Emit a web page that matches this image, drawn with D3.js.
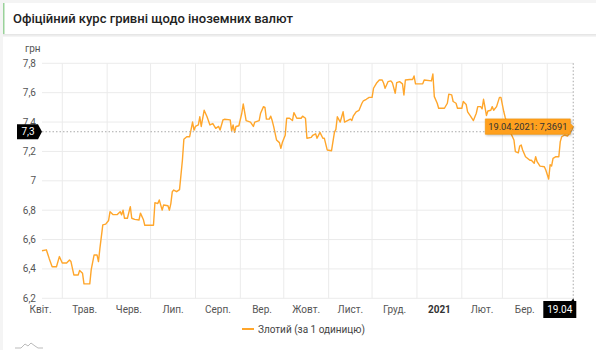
<!DOCTYPE html>
<html><head><meta charset="utf-8">
<script src="https://cdn.jsdelivr.net/npm/d3@7"></script>
<style>
html,body{margin:0;padding:0;background:#f4f4f4;}
svg{display:block;font-family:Roboto,"Noto Sans",sans-serif;}
</style></head>
<body>
<svg id="c" width="596" height="350"></svg>
<script>
const title = "Офіційний курс гривні щодо іноземних валют";
const unitLabel = "грн";
const seriesName = "Злотий (за 1 одиницю)";
const monthLabels = ["Квіт.","Трав.","Черв.","Лип.","Серп.","Вер.","Жовт.","Лист.","Груд.","2021","Лют.","Бер."];
const yTicks = [6.2,6.4,6.6,6.8,7,7.2,7.4,7.6,7.8];
const dates = ["2020-04-17","2020-04-20","2020-04-22","2020-04-24","2020-04-27","2020-04-29","2020-05-01","2020-05-04","2020-05-06","2020-05-07",
"2020-05-09","2020-05-12","2020-05-13","2020-05-15","2020-05-16","2020-05-20","2020-05-21","2020-05-23","2020-05-25","2020-05-26",
"2020-05-27","2020-05-29","2020-05-31","2020-06-02","2020-06-03","2020-06-05","2020-06-08","2020-06-10","2020-06-11","2020-06-12",
"2020-06-13","2020-06-15","2020-06-17","2020-06-18","2020-06-20","2020-06-23","2020-06-24","2020-06-26","2020-06-27","2020-07-03",
"2020-07-04","2020-07-06","2020-07-07","2020-07-09","2020-07-10","2020-07-13","2020-07-14","2020-07-15","2020-07-16","2020-07-17",
"2020-07-19","2020-07-21","2020-07-23","2020-07-24","2020-07-26","2020-07-28","2020-07-30","2020-07-31","2020-08-01","2020-08-03",
"2020-08-04","2020-08-05","2020-08-07","2020-08-09","2020-08-11","2020-08-13","2020-08-15","2020-08-17","2020-08-18","2020-08-20",
"2020-08-21","2020-08-25","2020-08-26","2020-08-27","2020-08-28","2020-08-29","2020-08-31","2020-09-02","2020-09-03","2020-09-05",
"2020-09-08","2020-09-10","2020-09-11","2020-09-14","2020-09-15","2020-09-17","2020-09-18","2020-09-19","2020-09-21","2020-09-22",
"2020-09-23","2020-09-24","2020-09-26","2020-09-28","2020-09-29","2020-09-30","2020-10-02","2020-10-03","2020-10-05","2020-10-07",
"2020-10-08","2020-10-10","2020-10-13","2020-10-14","2020-10-16","2020-10-17","2020-10-20","2020-10-21","2020-10-23","2020-10-24",
"2020-10-26","2020-10-28","2020-10-29","2020-10-31","2020-11-03","2020-11-05","2020-11-06","2020-11-07","2020-11-09","2020-11-11",
"2020-11-12","2020-11-14","2020-11-16","2020-11-17","2020-11-18","2020-11-20","2020-11-22","2020-11-24","2020-11-25","2020-11-27",
"2020-11-29","2020-12-01","2020-12-02","2020-12-04","2020-12-06","2020-12-08","2020-12-09","2020-12-10","2020-12-12","2020-12-14",
"2020-12-15","2020-12-17","2020-12-18","2020-12-20","2020-12-22","2020-12-23","2020-12-24","2020-12-27","2020-12-29","2020-12-30",
"2020-12-31","2021-01-05","2021-01-06","2021-01-11","2021-01-12","2021-01-13","2021-01-15","2021-01-16","2021-01-20","2021-01-22",
"2021-01-23","2021-01-25","2021-01-26","2021-01-28","2021-01-29","2021-02-01","2021-02-02","2021-02-04","2021-02-05","2021-02-07",
"2021-02-09","2021-02-11","2021-02-12","2021-02-14","2021-02-15","2021-02-16","2021-02-18","2021-02-19","2021-02-21","2021-02-22",
"2021-02-23","2021-02-25","2021-02-27","2021-02-28","2021-03-02","2021-03-03","2021-03-06","2021-03-07","2021-03-09","2021-03-10",
"2021-03-12","2021-03-13","2021-03-14","2021-03-15","2021-03-17","2021-03-20","2021-03-21","2021-03-23","2021-03-24","2021-03-25",
"2021-03-27","2021-03-30","2021-03-31","2021-04-02","2021-04-03","2021-04-04","2021-04-05","2021-04-07","2021-04-09","2021-04-10",
"2021-04-11","2021-04-13","2021-04-15","2021-04-16","2021-04-18","2021-04-19"];
const values = [6.524,6.53,6.47,6.415,6.415,6.484,6.44,6.44,6.46,6.45,
6.359,6.359,6.39,6.37,6.298,6.298,6.395,6.495,6.495,6.45,
6.54,6.70,6.705,6.73,6.79,6.77,6.77,6.79,6.768,6.80,
6.745,6.745,6.824,6.745,6.737,6.733,6.78,6.737,6.697,6.697,
6.851,6.845,6.87,6.80,6.835,6.83,6.80,6.845,6.926,6.937,
6.926,6.94,7.142,7.283,7.30,7.30,7.40,7.345,7.37,7.38,
7.436,7.37,7.48,7.436,7.38,7.39,7.357,7.37,7.346,7.414,
7.419,7.415,7.34,7.38,7.33,7.37,7.375,7.46,7.523,7.41,
7.40,7.37,7.40,7.41,7.46,7.505,7.50,7.42,7.42,7.44,
7.41,7.37,7.278,7.26,7.221,7.26,7.31,7.426,7.426,7.41,
7.464,7.426,7.426,7.44,7.426,7.29,7.296,7.31,7.32,7.29,
7.33,7.29,7.29,7.21,7.205,7.33,7.35,7.436,7.40,7.47,
7.40,7.41,7.42,7.41,7.44,7.47,7.48,7.528,7.545,7.555,
7.568,7.568,7.63,7.664,7.686,7.686,7.664,7.63,7.675,7.68,
7.668,7.596,7.668,7.675,7.66,7.584,7.686,7.69,7.69,7.714,
7.66,7.66,7.686,7.68,7.727,7.573,7.528,7.494,7.494,7.528,
7.59,7.585,7.54,7.528,7.494,7.494,7.54,7.52,7.47,7.441,
7.41,7.46,7.505,7.505,7.49,7.555,7.445,7.475,7.48,7.505,
7.48,7.505,7.568,7.568,7.47,7.43,7.34,7.32,7.278,7.198,
7.19,7.237,7.244,7.21,7.164,7.14,7.14,7.119,7.164,7.13,
7.10,7.096,7.073,7.012,7.11,7.10,7.153,7.164,7.164,7.267,
7.30,7.312,7.305,7.32,7.345,7.3691];
const domainStart = "2020-04-17", domainEnd = "2021-04-19";
const cursorValue = 7.334;
const cursorValueLabel = "7,3";
const cursorDateLabel = "19.04";
const tooltipText = "19.04.2021: 7,3691";

const parse = d3.utcParse("%Y-%m-%d");
const data = dates.map((d,i)=>({date:parse(d), value:values[i]}));
const svg = d3.select("#c");
const W=596,H=350;
const m={l:42,r:22.7,t:63.3,b:51.7};

// page background pieces
svg.append("rect").attr("x",0).attr("y",0).attr("width",W).attr("height",H).attr("fill","#f4f4f4");
svg.append("rect").attr("x",3).attr("y",3).attr("width",W-3).attr("height",31).attr("fill","#fff");
svg.append("rect").attr("x",3).attr("y",3).attr("width",1.5).attr("height",31).attr("fill","#9ad29a");
svg.append("rect").attr("x",3).attr("y",34).attr("width",W-3).attr("height",1.5).attr("fill","#e6e6e6");
svg.append("rect").attr("x",3).attr("y",37).attr("width",W-3).attr("height",H-37).attr("fill","#fff");
svg.append("text").attr("x",13).attr("y",23).attr("font-size",13).attr("font-weight",500)
  .attr("fill","#222").text(title);

const x = d3.scaleUtc().domain([parse(domainStart),parse(domainEnd)]).range([m.l,W-m.r]);
const y = d3.scaleLinear().domain([6.2,7.8]).range([H-m.b,m.t]);
const fmt = v => d3.format("~g")(+v.toFixed(1)).replace(".",",");

// horizontal grid
svg.append("g").selectAll("line").data(yTicks).join("line")
  .attr("x1",m.l).attr("x2",W-m.r).attr("y1",d=>y(d)).attr("y2",d=>y(d))
  .attr("stroke","#ebebeb").attr("stroke-width",1);
// vertical grid at month starts
const months = d3.utcMonth.range(d3.utcMonth.ceil(x.domain()[0]), x.domain()[1]);
svg.append("g").selectAll("line").data(months).join("line")
  .attr("x1",d=>x(d)).attr("x2",d=>x(d)).attr("y1",m.t).attr("y2",H-m.b)
  .attr("stroke","#ebebeb").attr("stroke-width",1);

// y labels
svg.append("g").selectAll("text").data(yTicks).join("text")
  .attr("x",36).attr("y",d=>y(d)).attr("dy","0.35em").attr("text-anchor","end")
  .attr("font-size",10).attr("fill","#555").text(fmt);
svg.append("text").attr("x",25).attr("y",52).attr("font-size",10).attr("fill","#555").text(unitLabel);

// x labels (centred in month cells)
const labelMonths = d3.utcMonth.range(d3.utcMonth.floor(x.domain()[0]), x.domain()[1]).slice(0,monthLabels.length);
svg.append("g").selectAll("text").data(labelMonths).join("text")
  .attr("x",d=>(x(d)+x(d3.utcMonth.offset(d,1)))/2).attr("y",313)
  .attr("text-anchor","middle").attr("font-size",10)
  .attr("font-weight",(d,i)=>monthLabels[i]==="2021"?700:400)
  .attr("fill",(d,i)=>monthLabels[i]==="2021"?"#333":"#555")
  .text((d,i)=>monthLabels[i]);

// line
const line = d3.line().x(d=>x(d.date)).y(d=>y(d.value));
svg.append("path").datum(data).attr("d",line).attr("fill","none")
  .attr("stroke","#ffa62b").attr("stroke-width",1.4).attr("stroke-linejoin","round");

// cursor lines
const last = data[data.length-1];
const cx = x(last.date), cy = y(cursorValue);
svg.append("line").attr("x1",m.l).attr("x2",W-m.r).attr("y1",cy).attr("y2",cy)
  .attr("stroke","#aaa").attr("stroke-dasharray","1.5,2");
svg.append("line").attr("x1",cx).attr("x2",cx).attr("y1",m.t).attr("y2",H-m.b)
  .attr("stroke","#bbb").attr("stroke-dasharray","1.5,2").attr("stroke-width",1.3);

// y cursor label
svg.append("path").attr("d",`M17,${cy-7.5}H38L42,${cy}L38,${cy+7.5}H17Z`).attr("fill","#000");
svg.append("text").attr("x",28).attr("y",cy).attr("dy","0.35em").attr("text-anchor","middle")
  .attr("font-size",10).attr("fill","#fff").text(cursorValueLabel);

// x cursor label
const bx1 = cx+3, bx0 = bx1-33, by0 = 301, by1 = 318;
svg.append("path").attr("d",`M${bx0},${by0}H${cx-2}L${cx},${H-m.b}L${cx+1},${by0}H${bx1}V${by1}H${bx0}Z`).attr("fill","#000");
svg.append("text").attr("x",(bx0+bx1)/2).attr("y",(by0+by1)/2).attr("dy","0.35em").attr("text-anchor","middle")
  .attr("font-size",10).attr("fill","#fff").text(cursorDateLabel);

// tooltip
const py = y(last.value);
const tr = cx-3, tl = tr-85, tt = py-7.7, tb = py+7.7;
svg.append("path").attr("d",`M${tl},${tt}H${tr}V${py-3}L${cx},${py}L${tr},${py+3}V${tb}H${tl}Z`)
  .attr("fill","#ffa01e").attr("stroke","#f39200").attr("stroke-width",0.6)
  .style("filter","drop-shadow(1px 1px 1px rgba(0,0,0,0.25))");
svg.append("text").attr("x",(tl+tr)/2).attr("y",py).attr("dy","0.35em").attr("text-anchor","middle")
  .attr("font-size",9.3).attr("fill","#333").text(tooltipText);

// legend
svg.append("line").attr("x1",242).attr("x2",254).attr("y1",329).attr("y2",329)
  .attr("stroke","#ffa62b").attr("stroke-width",2);
svg.append("text").attr("x",258).attr("y",329).attr("dy","0.35em").attr("font-size",10)
  .attr("fill","#444").text(seriesName);

// small logo at bottom-left
svg.append("path").attr("d","M15,348 L21,348 L25,344 L28,346 L31,343 L35,346 L38,348 L43,348")
  .attr("fill","none").attr("stroke","#bbb").attr("stroke-width",1);
</script>
</body></html>
